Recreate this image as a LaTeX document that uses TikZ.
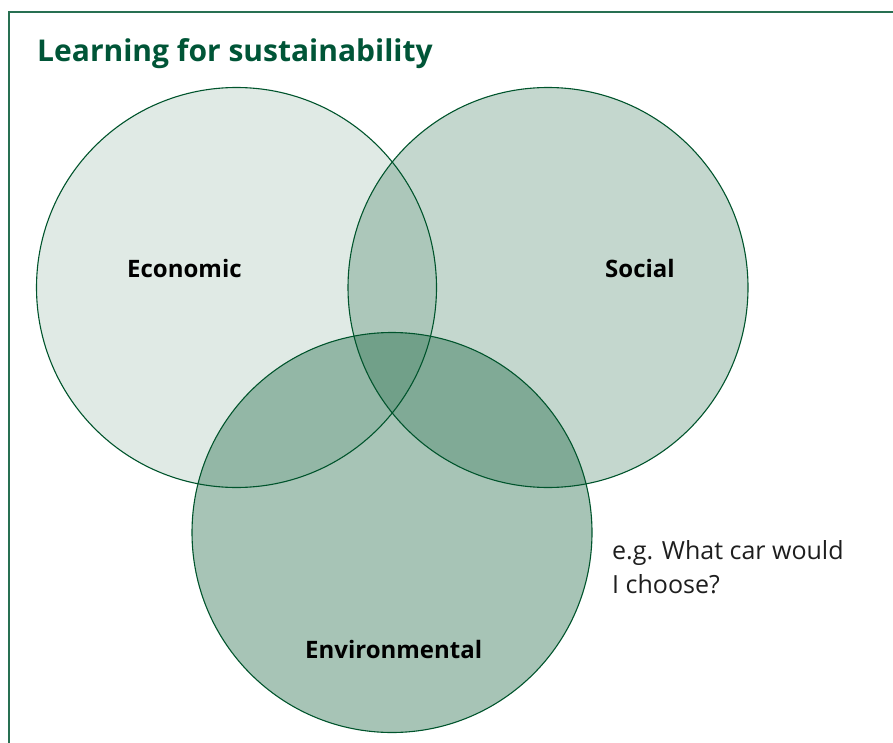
\documentclass[tikz,border=0pt]{standalone}
\usepackage{fontspec}
\setmainfont{Open Sans}
\usepackage{tikz}
\usetikzlibrary{positioning}

\definecolor{leafgreen}{RGB}{0,84,44}
\definecolor{framegreen}{RGB}{40,112,82}
\definecolor{titlegreen}{RGB}{0,85,55}
\definecolor{inkgrey}{RGB}{30,30,30}

\begin{document}
\begin{tikzpicture}[x=1pt,y=-1pt,
                    sphere/.style={circle,draw=leafgreen,line width=1.1pt,minimum size=400pt,inner sep=0pt},
                    econ/.style={sphere,fill=leafgreen,fill opacity=0.12},
                    soc/.style={sphere,fill=leafgreen,fill opacity=0.23},
                    env/.style={sphere,fill=leafgreen,fill opacity=0.345},
                    pillar/.style={font=\bfseries\fontsize{24}{28}\selectfont,text=black,inner sep=0pt,anchor=base west}
                ]
    \useasboundingbox (0,0) rectangle (893,743);
    \begin{scope}
        \clip (0,0) rectangle (893,743);
        \draw[framegreen,line width=1.8pt] (9,12) rectangle (920,780);
    \end{scope}

    \node[font=\bfseries\fontsize{30}{36}\selectfont,text=titlegreen,inner sep=0pt,anchor=base west]
        (title) at (37,62) {Learning for sustainability};

    % the three overlapping circles
    \node[econ] (eco) at (236.5,287.5) {};
    \node[soc] (soc) at (548,287.5) {};
    \node[env] (envc) at (392,532.5) {};

    \node[pillar] (ecolbl) at (127,277) {Economic};
    \node[pillar] (soclbl) at (605,277) {Social};
    \node[pillar] (envlbl) at (305,658) {Environmental};

    \node[font=\fontsize{25}{34}\selectfont,text=inkgrey,inner sep=0pt,anchor=base west,align=left]
        (example) at (612,593) {e.g. What car would\\I choose?};
\end{tikzpicture}
\end{document}
